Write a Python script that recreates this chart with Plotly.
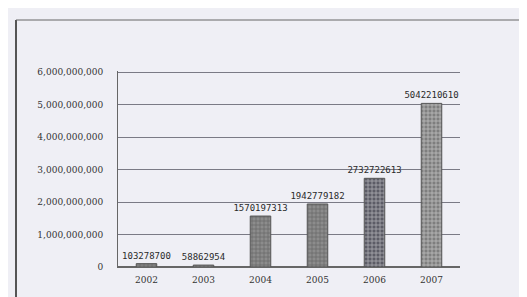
import plotly.graph_objects as go

years = ["2002", "2003", "2004", "2005", "2006", "2007"]
values = [103278700, 58862954, 1570197313, 1942779182, 2732722613, 5042210610]
labels = ["103278700", "58862954", "1570197313", "1942779182", "2732722613", "5042210610"]
tick_vals = [0, 1e9, 2e9, 3e9, 4e9, 5e9, 6e9]
tick_text = ["0", "1,000,000,000", "2,000,000,000", "3,000,000,000",
             "4,000,000,000", "5,000,000,000", "6,000,000,000"]

W, H = 527, 297
L, R, T, B = 110, 75, 63, 38
pw, ph = W - L - R, H - T - B

def px(x):
    return (x - L) / pw

def py(y):
    return 1 - (y - T) / ph

fig = go.Figure()
fig.add_trace(go.Bar(
    x=years, y=values, text=labels, textposition="outside",
    constraintext="none",
    textfont=dict(family="DejaVu Sans Mono", size=9, color="#2a2a2a"),
    cliponaxis=False, width=0.36,
    marker=dict(color=["#8c8c8c", "#8c8c8c", "#8c8c8c", "#8c8c8c", "#5c5c66", "#7e7e7e"],
                line=dict(color="#555555", width=1),
                pattern=dict(shape="+", fgcolor="#444444", size=4, solidity=0.35)),
))

shapes = [
    dict(type="line", xref="paper", yref="paper", x0=px(8), x1=px(8), y0=py(12), y1=py(297),
         line=dict(color="#555555", width=2)),
    dict(type="line", xref="paper", yref="paper", x0=px(8), x1=px(527), y0=py(12), y1=py(12),
         line=dict(color="#666666", width=1)),
]
fig.update_layout(
    width=W, height=H, margin=dict(l=L, r=R, t=T, b=B),
    paper_bgcolor="#efeff5", plot_bgcolor="#efeff5",
    showlegend=False,
    font=dict(family="DejaVu Sans", size=9, color="#333333"),
    shapes=shapes,
    xaxis=dict(showline=True, linecolor="#666666", linewidth=1, ticks="",
               tickfont=dict(family="DejaVu Serif", size=9, color="#333333"),
               ticklabelstandoff=4),
    yaxis=dict(range=[0, 6.04e9], tickvals=tick_vals, ticktext=tick_text,
               showgrid=True, gridcolor="#7a7a85", gridwidth=1,
               showline=True, linecolor="#666666", linewidth=1,
               zeroline=True, zerolinecolor="#666666",
               tickfont=dict(family="DejaVu Serif", size=9, color="#333333"),
               ticklabelstandoff=12),
)
fig.write_html("out.html")
